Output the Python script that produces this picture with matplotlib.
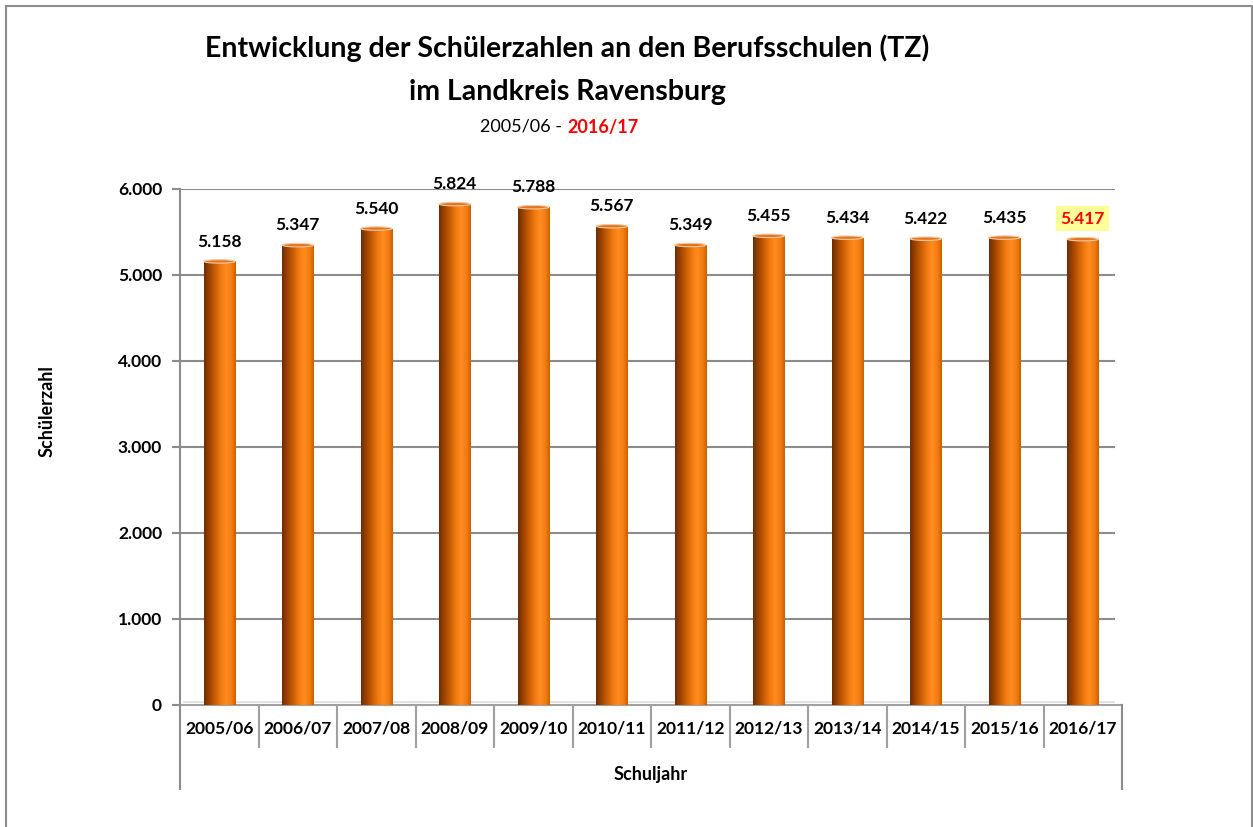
import matplotlib
matplotlib.use("Agg")
import matplotlib.pyplot as plt
import numpy as np
from matplotlib.colors import LinearSegmentedColormap
from matplotlib.patches import Rectangle, Ellipse

plt.rcParams['font.family'] = ['Lato', 'DejaVu Sans']

years = ["2005/06", "2006/07", "2007/08", "2008/09", "2009/10", "2010/11",
         "2011/12", "2012/13", "2013/14", "2014/15", "2015/16", "2016/17"]
values = [5158, 5347, 5540, 5824, 5788, 5567, 5349, 5455, 5434, 5422, 5435, 5417]
yticks = [0, 1000, 2000, 3000, 4000, 5000, 6000]
ytick_labels = ["0", "1.000", "2.000", "3.000", "4.000", "5.000", "6.000"]

W, H = 1253, 828
fig = plt.figure(figsize=(W / 100, H / 100), dpi=100)
fig.patch.set_facecolor("white")

# outer border
fig.patches.append(Rectangle((6 / W, -0.01), (1252 - 6) / W, (H - 7) / H + 0.01,
                             transform=fig.transFigure, fill=False,
                             edgecolor="#8c8c8c", linewidth=1.5))

ax = fig.add_axes([180 / W, 122 / H, (1122 - 180) / W, (706 - 190) / H])
ax.set_xlim(-0.5, 11.5)
ax.set_ylim(0, 6000)
for s in ax.spines.values():
    s.set_visible(False)
ax.set_xticks([])
ax.set_yticks([])

grid_c = "#8c8c8c"
# gridlines
for yv in yticks[1:]:
    ax.plot([-0.5, 11.4], [yv, yv], color=grid_c, lw=1.5, zorder=1)
# y ticks + labels
trans_y = ax.get_yaxis_transform()
for yv, lab in zip(yticks, ytick_labels):
    ax.plot([-0.0075, 0], [yv, yv], transform=trans_y, color=grid_c, lw=1.5,
            clip_on=False)
    ax.text(-0.019, yv, lab, transform=trans_y, ha="right", va="center",
            fontsize=12.5, fontweight="bold", color="black")

# floor / x axis
ax.plot([-0.5, 11.5], [0, 0], color="#a0a0a0", lw=1.5, zorder=1, clip_on=False)
ax.plot([-0.45, 11.4], [40, 40], color="#dddddd", lw=1.2, zorder=1, clip_on=False)

# y axis line extending down
trans_x = ax.get_xaxis_transform()
ax.plot([-0.5, -0.5], [1.0, -0.1628], transform=trans_x, color=grid_c, lw=1.5,
        clip_on=False)
ax.plot([11.5, 11.5], [0.0, -0.1628], transform=trans_x, color=grid_c, lw=1.5,
        clip_on=False)
for k in range(1, 12):
    ax.plot([k - 0.5, k - 0.5], [0.0, -0.0814], transform=trans_x, color="#a0a0a0",
            lw=1.5, clip_on=False)

# category labels
for i, lab in enumerate(years):
    ax.text(i, -0.044, lab, transform=trans_x, ha="center", va="center",
            fontsize=12.5, fontweight="bold", color="black")

# bars with cylindrical gradient
cmap = LinearSegmentedColormap.from_list("cyl", [
    (0.0, "#6e2c00"), (0.25, "#b24f00"), (0.55, "#f57d12"),
    (0.7, "#ff8c20"), (0.88, "#f07a10"), (1.0, "#c96000")])
grad = np.linspace(0, 1, 256).reshape(1, -1)
bw = 0.4
for i, v in enumerate(values):
    x0 = i - bw / 2
    rect = Rectangle((x0, 0), bw, v, facecolor="none", edgecolor="none")
    ax.add_patch(rect)
    im = ax.imshow(grad, extent=[x0, x0 + bw, 0, v], aspect="auto", cmap=cmap,
                   zorder=2, interpolation="bicubic")
    im.set_clip_path(rect)
    ax.add_patch(Ellipse((i, v), bw, 40, facecolor="#e37520", edgecolor="#f2c9a0",
                         lw=0.8, zorder=3))

# data labels
for i, v in enumerate(values):
    txt = f"{v/1000:.3f}"
    if i == len(values) - 1:
        ax.annotate(txt, (i, v), xytext=(0, 15), textcoords="offset points",
                    ha="center", va="center", fontsize=12.5, fontweight="bold",
                    color="#ff0000",
                    bbox=dict(boxstyle="square,pad=0.25", facecolor="#ffff99",
                              edgecolor="none"))
    else:
        ax.annotate(txt, (i, v), xytext=(0, 15), textcoords="offset points",
                    ha="center", va="center", fontsize=12.5, fontweight="bold",
                    color="black")

# axis titles
fig.text(47 / W, 1 - 411 / H, "Schülerzahl", rotation=90, ha="center", va="center",
         fontsize=13, fontweight="bold")
fig.text(651 / W, 1 - 775 / H, "Schuljahr", ha="center", va="center",
         fontsize=13, fontweight="bold")

# title
fig.text(567 / W, 1 - 48 / H, "Entwicklung der Schülerzahlen an den Berufsschulen (TZ)",
         ha="center", va="center", fontsize=20.5, fontweight="bold")
fig.text(567 / W, 1 - 92 / H, "im Landkreis Ravensburg",
         ha="center", va="center", fontsize=20.5, fontweight="bold")
fig.text(567 / W, 1 - 127 / H, "2005/06 - ", ha="right", va="center",
         fontsize=13, fontweight="normal")
fig.text(567 / W, 1 - 127 / H, "2016/17", ha="left", va="center",
         fontsize=13, fontweight="bold", color="#ff0000")

fig.savefig("out.png", dpi=100)
